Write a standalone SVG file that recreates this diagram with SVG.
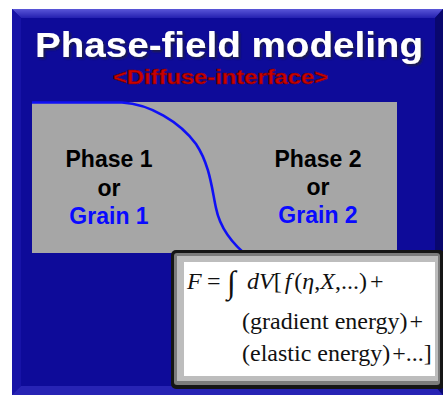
<svg xmlns="http://www.w3.org/2000/svg" width="443" height="395" viewBox="0 0 443 395">
  <defs>
    <filter id="shadow" x="-10%" y="-30%" width="120%" height="160%">
      <feDropShadow dx="2" dy="2" stdDeviation="1.2" flood-color="#1a1a40" flood-opacity="0.9"/>
    </filter>
    <linearGradient id="topBevel" x1="0" y1="0" x2="0" y2="1">
      <stop offset="0" stop-color="#5a56d8"/>
      <stop offset="1" stop-color="#2420b0"/>
    </linearGradient>
    <style>
      .label { font-family: "Liberation Sans", Arial, sans-serif; font-weight: bold; font-size: 23px; text-anchor: middle; }
      .phase { fill: #000000; }
      .grain { fill: #0a0aff; }
      .eq { font-family: "Liberation Serif", "Times New Roman", serif; font-size: 24px; fill: #111111; }
      .it { font-style: italic; }
    </style>
  </defs>
  <rect x="0" y="0" width="443" height="395" fill="#ffffff"/>

  <g id="panel">
    <rect x="12" y="9" width="431" height="386" fill="#0e0b99"/>
    <polygon points="12,9 443,9 435,18 21,18" fill="url(#topBevel)"/>
    <polygon points="12,9 21,18 21,386 12,395" fill="#1713a6"/>
    <polygon points="12,395 21,386 435,386 443,395" fill="#2723b4"/>
    <polygon points="443,9 435,18 435,386 443,395" fill="#09076e"/>
    <rect x="21" y="18" width="414" height="368" fill="#0e0b99"/>
  </g>

  <g id="title">
    <text x="35" y="57" font-family="'Liberation Sans', Arial, sans-serif" font-weight="bold" font-size="35" fill="#ffffff" textLength="388" lengthAdjust="spacingAndGlyphs" filter="url(#shadow)">Phase-field modeling</text>
  </g>

  <g id="subtitle">
    <text x="113" y="84" font-family="'Liberation Sans', Arial, sans-serif" font-weight="bold" font-size="20" fill="#cc0000" stroke="#7a0000" stroke-width="0.6" textLength="215" lengthAdjust="spacingAndGlyphs">&lt;Diffuse-interface&gt;</text>
  </g>

  <g id="domain">
    <rect x="32" y="102" width="365" height="151" fill="#a6a6a6"/>
  </g>

  <g id="connectors">
    <path d="M32,102.5 H122 C150,104 180,122 196,144 C210,165 212,190 216,208 C220,228 232,244 250,258" fill="none" stroke="#1010f5" stroke-width="2.6"/>
  </g>

  <g id="phase1">
    <text class="label phase" x="109" y="167">Phase 1</text>
    <text class="label phase" x="109" y="196">or</text>
    <text class="label grain" x="109" y="224">Grain 1</text>
  </g>

  <g id="phase2">
    <text class="label phase" x="318" y="167">Phase 2</text>
    <text class="label phase" x="318" y="195">or</text>
    <text class="label grain" x="318" y="223">Grain 2</text>
  </g>

  <g id="equation">
    <rect x="171" y="250" width="274" height="139" rx="5" fill="#151515"/>
    <rect x="174" y="253" width="266" height="132" rx="3" fill="#7c7c7c"/>
    <rect x="177" y="256" width="261" height="125" fill="#bdbdbd"/>
    <rect x="184" y="262" width="251" height="114" fill="#ffffff"/>
    <text class="eq" y="289"><tspan class="it" x="187">F</tspan><tspan x="207">=</tspan><tspan x="227" y="293" font-size="32">∫</tspan><tspan class="it" x="247" y="289">dV</tspan><tspan>[</tspan><tspan class="it" dx="3">f</tspan><tspan dx="3">(</tspan><tspan class="it">η</tspan><tspan>,</tspan><tspan class="it">X</tspan><tspan>,...)</tspan><tspan dx="3">+</tspan></text>
    <text class="eq" x="242" y="329">(gradient energy)<tspan dx="2">+</tspan></text>
    <text class="eq" x="242" y="361">(elastic energy)<tspan dx="2">+...]</tspan></text>
  </g>
</svg>
